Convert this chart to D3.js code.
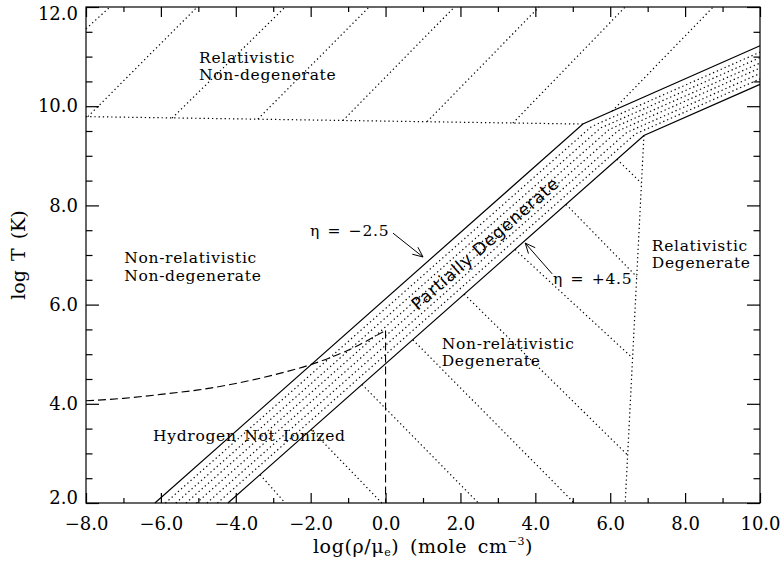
<!DOCTYPE html>
<html lang="en">
  <head>
    <meta charset="UTF-8" />
    <title>Degeneracy regimes in the rho-T plane</title>
    <script src="https://d3js.org/d3.v7.min.js"></script>
    <style>
      body { margin: 0; background: #fff; }
      text { font-family: "DejaVu Serif", serif; fill: #000; }
    </style>
  </head>
  <body>
    <div id="chart"></div>

    <script>
      // tick values
      const xTicks = [-8, -6, -4, -2, 0, 2, 4, 6, 8, 10];
      const xMinorTicks = [-7, -5, -3, -1, 1, 3, 5, 7, 9];
      const yTicks = [2, 4, 6, 8, 10, 12];
      const yMinorTicks = [2.5, 3, 3.5, 4.5, 5, 5.5, 6.5, 7, 7.5, 8.5, 9, 9.5, 10.5, 11, 11.5];

      // band edges, [log(rho/mu_e), log T]
      const etaUpper = [[-6.16, 2.0], [5.27, 9.64], [10.0, 11.22]]; // eta = -2.5
      const etaLower = [[-4.21, 2.0], [6.9, 9.41], [10.0, 10.44]]; // eta = +4.5

      // dotted eta lines inside the band
      const etaStartX = [-5.88, -5.6, -5.33, -5.05, -4.77, -4.49];
      const etaKinkX = [5.5, 5.74, 5.97, 6.2, 6.44, 6.67];
      const etaKinkT = [9.59, 9.56, 9.53, 9.5, 9.47, 9.44];
      const etaEndT = [11.09, 10.98, 10.87, 10.77, 10.66, 10.55];

      // region borders
      const relBorder = [[-8.0, 9.79], [5.27, 9.64]];
      const relDegBorder = [[6.9, 9.41], [6.4, 2.0]];
      const ionCurve = [[-8, 4.06], [-7, 4.11], [-6, 4.19], [-5, 4.28], [-4, 4.41], [-3, 4.58], [-2, 4.79], [-1, 5.08], [0, 5.48]];
      const ionVertical = [[0, 5.48], [0, 2.0]];

      // hatching
      const hatchUpper = [
        [[-8.0, 11.56], [-7.36, 12.0]],
        [[-7.95, 9.79], [-5.03, 12.0]],
        [[-5.7, 9.76], [-2.68, 12.0]],
        [[-3.41, 9.74], [-0.44, 12.0]],
        [[-1.14, 9.71], [1.84, 12.0]],
        [[1.11, 9.69], [4.1, 12.0]],
        [[3.4, 9.66], [6.4, 12.0]],
        [[6.05, 9.9], [8.75, 12.0]],
      ];
      const hatchLower = [
        [[-3.35, 2.57], [-2.68, 2.0]],
        [[-1.99, 3.48], [-0.1, 2.0]],
        [[-0.63, 4.39], [2.48, 2.0]],
        [[0.73, 5.29], [5.04, 2.0]],
        [[2.1, 6.21], [6.46, 2.97]],
        [[3.46, 7.11], [6.6, 4.92]],
        [[4.82, 8.02], [6.71, 6.56]],
        [[6.18, 8.93], [6.83, 8.45]],
      ];

      // arrows: [tail, head]
      const arrows = [
        [[0.2, 7.44], [1.0, 6.96]],
        [[4.45, 6.62], [3.73, 7.24]],
      ];

      // labels: [x, logT, text]
      const labels = [
        [-4.98, 10.87, "Relativistic"],
        [-4.98, 10.52, "Non-degenerate"],
        [-6.98, 6.84, "Non-relativistic"],
        [-6.98, 6.48, "Non-degenerate"],
        [-6.21, 3.25, "Hydrogen Not Ionized"],
        [1.5, 5.1, "Non-relativistic"],
        [1.5, 4.76, "Degenerate"],
        [7.11, 7.08, "Relativistic"],
        [7.11, 6.74, "Degenerate"],
        [-2.02, 7.38, "η = −2.5"],
        [4.47, 6.42, "η = +4.5"],
      ];

      const margin = { top: 7, right: 22, bottom: 61, left: 86 },
        width = 782 - margin.left - margin.right,
        height = 564 - margin.top - margin.bottom;

      const svg = d3
        .select("#chart")
        .append("svg")
        .attr("width", 782)
        .attr("height", 564)
        .append("g")
        .attr("transform", `translate(${margin.left},${margin.top})`);

      const x = d3.scaleLinear().domain([-8, 10]).range([0, width]);
      const y = d3.scaleLinear().domain([2, 12]).range([height, 0]);

      const line = d3
        .line()
        .x((d) => x(d[0]))
        .y((d) => y(d[1]));

      const fmt = d3.format(".1f");

      // axes: major + minor ticks on all four sides
      function addAxis(axis, tf, values, size, labelled, pad) {
        const g = svg
          .append("g")
          .attr("transform", tf)
          .call(
            axis
              .tickValues(values)
              .tickSize(size)
              .tickPadding(pad || 3)
              .tickFormat(labelled ? fmt : "")
          );
        g.select(".domain").remove();
        g.selectAll("line").attr("stroke", "#000").attr("stroke-width", 1.2);
        g.selectAll("text")
          .attr("font-family", "DejaVu Serif")
          .attr("font-size", 18);
        return g;
      }

      addAxis(d3.axisBottom(x), `translate(0,${height})`, xTicks, -10, true, 14);
      addAxis(d3.axisBottom(x), `translate(0,${height})`, xMinorTicks, -5, false);
      addAxis(d3.axisTop(x), "translate(0,0)", xTicks, -10, false);
      addAxis(d3.axisTop(x), "translate(0,0)", xMinorTicks, -5, false);
      const yAxisG = addAxis(d3.axisLeft(y), "translate(0,0)", yTicks, -13, true, 8);
      addAxis(d3.axisLeft(y), "translate(0,0)", yMinorTicks, -6.5, false);
      addAxis(d3.axisRight(y), `translate(${width},0)`, yTicks, -13, false);
      addAxis(d3.axisRight(y), `translate(${width},0)`, yMinorTicks, -6.5, false);

      // keep end labels inside the frame like the original
      yAxisG
        .selectAll("text")
        .attr("dy", (d) => (d === 12 ? "0.72em" : d === 2 ? "0.02em" : "0.32em"));

      // frame
      svg
        .append("rect")
        .attr("width", width)
        .attr("height", height)
        .attr("fill", "none")
        .attr("stroke", "#000")
        .attr("stroke-width", 1.2);

      const plot = svg.append("g");

      const dotted = (pts) =>
        plot
          .append("path")
          .attr("d", line(pts))
          .attr("fill", "none")
          .attr("stroke", "#000")
          .attr("stroke-width", 1.2)
          .attr("stroke-dasharray", "1.3,2.9");

      // hatching and borders
      hatchUpper.forEach(dotted);
      hatchLower.forEach(dotted);
      dotted(relBorder);
      dotted(relDegBorder);

      // eta lines inside band
      etaStartX.forEach((sx, i) => {
        dotted([
          [sx, 2.0],
          [etaKinkX[i], etaKinkT[i]],
          [10.0, etaEndT[i]],
        ]);
      });

      // hydrogen ionization
      plot
        .append("path")
        .attr("d", line.curve(d3.curveMonotoneX)(ionCurve))
        .attr("fill", "none")
        .attr("stroke", "#000")
        .attr("stroke-width", 1.1)
        .attr("stroke-dasharray", "8,4");
      line.curve(d3.curveLinear);
      plot
        .append("path")
        .attr("d", line(ionVertical))
        .attr("fill", "none")
        .attr("stroke", "#000")
        .attr("stroke-width", 1.1)
        .attr("stroke-dasharray", "8,4");

      // solid band edges
      [etaUpper, etaLower].forEach((pts) => {
        plot
          .append("path")
          .attr("d", line(pts))
          .attr("fill", "none")
          .attr("stroke", "#000")
          .attr("stroke-width", 1.2);
      });

      // arrows
      arrows.forEach(([a, b]) => {
        const x0 = x(a[0]), y0 = y(a[1]), x1 = x(b[0]), y1 = y(b[1]);
        const ang = Math.atan2(y1 - y0, x1 - x0);
        const len = 11, spread = 0.42;
        const p =
          `M${x0},${y0}L${x1},${y1}` +
          `M${x1 - len * Math.cos(ang - spread)},${y1 - len * Math.sin(ang - spread)}L${x1},${y1}` +
          `L${x1 - len * Math.cos(ang + spread)},${y1 - len * Math.sin(ang + spread)}`;
        plot
          .append("path")
          .attr("d", p)
          .attr("fill", "none")
          .attr("stroke", "#000")
          .attr("stroke-width", 1);
      });

      // region labels
      plot
        .selectAll("text.region")
        .data(labels)
        .join("text")
        .attr("class", "region")
        .attr("x", (d) => x(d[0]))
        .attr("y", (d) => y(d[1]))
        .attr("font-size", 15.5)
        .attr("letter-spacing", 0.7)
        .attr("word-spacing", 2)
        .text((d) => d[2]);

      // label along the band
      const bx = 2.66, bt = (2 + (2 / 3) * (bx + 6.16) + 2 + (2 / 3) * (bx + 4.21)) / 2;
      const bandAngle = (-Math.atan2(y(2) - y(2 + 2 / 3), x(1) - x(0)) * 180) / Math.PI;
      plot
        .append("text")
        .attr("transform", `translate(${x(bx)},${y(bt)}) rotate(${bandAngle})`)
        .attr("text-anchor", "middle")
        .attr("dy", "0.35em")
        .style("font-family", "DejaVu Sans")
        .attr("font-size", 17)
        .attr("letter-spacing", 0.8)
        .text("Partially Degenerate");

      // axis titles
      svg
        .append("text")
        .attr("transform", `translate(${25 - margin.left},${height / 2}) rotate(-90)`)
        .attr("text-anchor", "middle")
        .attr("font-size", 19)
        .attr("word-spacing", 3)
        .text("log T (K)");

      const xt = svg
        .append("text")
        .attr("x", width / 2)
        .attr("y", 553 - margin.top)
        .attr("text-anchor", "middle")
        .attr("font-size", 19)
        .attr("letter-spacing", 0.6)
        .attr("word-spacing", 4);
      xt.append("tspan").text("log(ρ/μ");
      xt.append("tspan").attr("font-size", 11).attr("dy", 3).text("e");
      xt.append("tspan").attr("dy", -3).text(") (mole cm");
      xt.append("tspan").attr("font-size", 11).attr("dy", -8).text("−3");
      xt.append("tspan").attr("dy", 8).text(")");
    </script>
  </body>
</html>
